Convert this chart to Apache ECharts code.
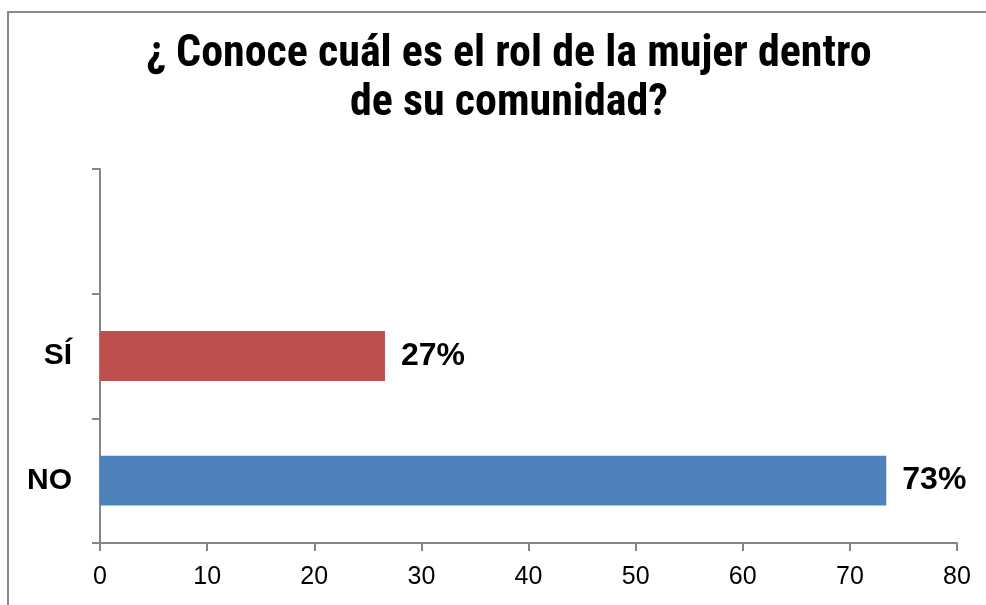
<!DOCTYPE html>
<html>
<head>
<meta charset="utf-8">
<script src="https://cdn.jsdelivr.net/npm/echarts@6/dist/echarts.min.js"></script>
<style>
  html, body { margin: 0; padding: 0; background: #fff; }
  #chart { width: 986px; height: 605px; }
</style>
</head>
<body>
<div id="chart"></div>
<script>
var categories = ['NO', 'SÍ', ''];
var values = [73.4, 26.6, null];
var colors = ['#4F81BD', '#C0504D', '#4F81BD'];
var xTicks = [0, 10, 20, 30, 40, 50, 60, 70, 80];

var chart = echarts.init(document.getElementById('chart'));

var option = {
  backgroundColor: '#ffffff',
  animation: false,
  title: {
    text: '¿ Conoce cuál es el rol de la mujer dentro\nde su comunidad?',
    left: 504,
    top: 25,
    textAlign: 'center',
    textStyle: {
      fontFamily: 'Roboto',
      fontStyle: 'condensed',
      fontWeight: 'bold',
      fontSize: 44,
      lineHeight: 49,
      color: '#000'
    }
  },
  graphic: [{
    type: 'rect',
    shape: { x: 8, y: 12, width: 1000, height: 1000 },
    style: { fill: 'none', stroke: '#8a8a8a', lineWidth: 2 },
    silent: true
  }],
  grid: { left: 100, right: 29, top: 169, bottom: 62 },
  xAxis: {
    type: 'value',
    min: xTicks[0],
    max: xTicks[xTicks.length - 1],
    interval: 10,
    splitLine: { show: false },
    axisLine: { show: true, lineStyle: { color: '#868686', width: 2 } },
    axisTick: { show: true, length: 8, lineStyle: { color: '#868686', width: 2 } },
    axisLabel: {
      margin: 22,
      fontFamily: 'Liberation Sans',
      fontSize: 25,
      color: '#000'
    }
  },
  yAxis: {
    type: 'category',
    data: categories,
    axisLine: { show: true, lineStyle: { color: '#868686', width: 2 } },
    axisTick: { show: true, length: 8, lineStyle: { color: '#868686', width: 2 } },
    axisLabel: {
      margin: 28,
      fontFamily: 'Liberation Sans',
      fontWeight: 'bold',
      fontSize: 30,
      color: '#000'
    }
  },
  series: [{
    type: 'bar',
    data: values.map(function (v, i) {
      return { value: v, itemStyle: { color: colors[i] } };
    }),
    barWidth: '40%',
    label: {
      show: true,
      position: 'right',
      distance: 16,
      formatter: function (p) { return p.value == null ? '' : Math.round(p.value) + '%'; },
      fontFamily: 'Liberation Sans',
      fontWeight: 'bold',
      fontSize: 32,
      color: '#000'
    }
  }]
};

chart.setOption(option);
</script>
</body>
</html>
